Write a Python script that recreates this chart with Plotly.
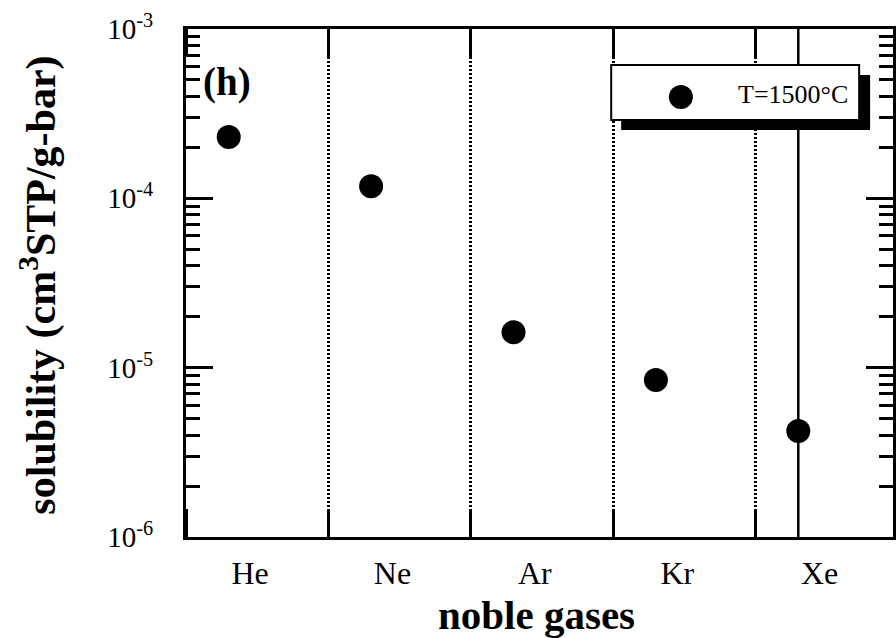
import numpy as np
import plotly.graph_objects as go

# Noble gas solubility at 1500 °C
gases = ["He", "Ne", "Ar", "Kr", "Xe"]
solubility = [2.30e-4, 1.18e-4, 1.62e-5, 8.45e-6, 4.22e-6]

decades = [1e-6, 1e-5, 1e-4, 1e-3]
decade_labels = ["10<sup>-6</sup>", "10<sup>-5</sup>", "10<sup>-4</sup>", "10<sup>-3</sup>"]

series_label = "T=1500°C"
panel_tag = "(h)"

SERIF = "Liberation Serif"

# each gas occupies one unit-wide column; points sit left of the column centre
slot = np.arange(len(gases))
x_pts = slot + 0.30
x_lab = slot + 0.45

W, H = 896, 638
ML, MR, MT, MB = 186, 0, 29, 101
PW, PH = W - ML - MR, H - MT - MB


def px(xp):
    return (xp - ML) / PW


def py(yp):
    return (H - MB - yp) / PH


fig = go.Figure()

# solid guide through the Xe column
fig.add_trace(go.Scatter(
    x=[x_pts[-1], x_pts[-1]], y=[decades[0], decades[-1]],
    mode="lines", line=dict(color="black", width=2.5),
    hoverinfo="skip", showlegend=False,
))

fig.add_trace(go.Scatter(
    x=x_pts, y=solubility, mode="markers",
    marker=dict(color="black", size=24),
    name=series_label, showlegend=False,
))

fig.update_layout(
    width=W, height=H,
    margin=dict(l=ML, r=MR, t=MT, b=MB),
    paper_bgcolor="white", plot_bgcolor="white",
    font=dict(family=SERIF, color="black"),
    xaxis=dict(
        range=[0, PW / 143.0],
        tickvals=list(x_lab), ticktext=gases,
        ticks="", showgrid=False, zeroline=False,
        tickfont=dict(size=32, family=SERIF),
        ticklabelstandoff=6,
        showline=True, linecolor="black", linewidth=3, mirror="ticks",
        minor=dict(
            tick0=0, dtick=1, ticks="inside", ticklen=28, tickwidth=3,
            tickcolor="black", showgrid=True, gridcolor="black",
            gridwidth=2.5, griddash="2px,2px",
        ),
    ),
    yaxis=dict(
        type="log", range=[-6, -3],
        tickvals=decades, ticktext=decade_labels,
        ticks="inside", ticklen=27, tickwidth=2.5, tickcolor="black",
        tickfont=dict(size=29, family=SERIF),
        ticklabelstandoff=24,
        showgrid=False, zeroline=False,
        showline=True, linecolor="black", linewidth=3, mirror="ticks",
        minor=dict(dtick="D1", ticks="inside", ticklen=14, tickwidth=2.5,
                   tickcolor="black", showgrid=False),
    ),
)

# legend box with drop shadow
fig.add_shape(type="rect", xref="paper", yref="paper",
              x0=px(623), x1=px(873), y0=py(130), y1=py(75),
              fillcolor="black", line=dict(width=0), layer="above")
fig.add_shape(type="rect", xref="paper", yref="paper",
              x0=px(613), x1=px(862), y0=py(120), y1=py(65),
              fillcolor="white", line=dict(color="black", width=2), layer="above")
fig.add_shape(type="circle", xref="paper", yref="paper",
              xsizemode="pixel", ysizemode="pixel",
              xanchor=px(683), yanchor=py(97),
              x0=-12, x1=12, y0=-12, y1=12,
              fillcolor="black", line=dict(width=0), layer="above")
fig.add_annotation(text=series_label, xref="paper", yref="paper",
                   x=px(738), y=py(94), xanchor="left", yanchor="middle",
                   showarrow=False, font=dict(size=26, family=SERIF))

fig.add_annotation(text="<b>" + panel_tag + "</b>", xref="paper", yref="paper",
                   x=px(201), y=py(82), xanchor="left", yanchor="middle",
                   showarrow=False, font=dict(size=39, family=SERIF))

# axis titles
fig.add_annotation(text="<b>noble gases</b>", xref="paper", yref="paper",
                   x=px(538), y=py(615), xanchor="center", yanchor="middle",
                   showarrow=False, font=dict(size=41, family=SERIF))
fig.add_annotation(text="<b>solubility (cm<sup>3</sup>STP/g-bar)</b>",
                   xref="paper", yref="paper",
                   x=px(38), y=py(285), xanchor="center", yanchor="middle",
                   textangle=-90, showarrow=False,
                   font=dict(size=42, family=SERIF))

fig.write_html("out.html")
